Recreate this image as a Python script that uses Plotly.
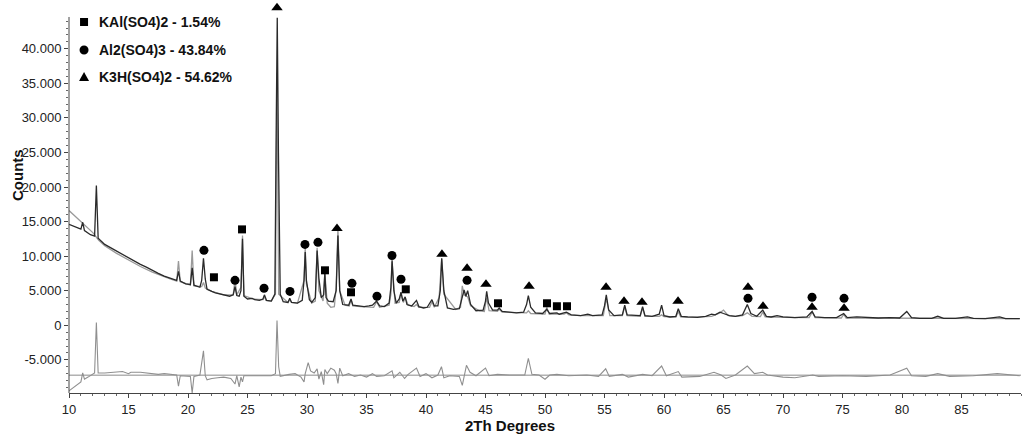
import plotly.graph_objects as go

# observed pattern (2theta, counts)
obs_x = [10.0, 10.5, 11.0, 11.15, 11.3, 11.8, 12.15, 12.3, 12.45, 13.0, 13.5, 14.0, 14.5, 15.0, 15.5, 16.0, 16.5,
         17.0, 17.5, 18.0, 18.5, 19.05, 19.2, 19.35, 19.8, 20.2, 20.35, 20.5, 21.0, 21.15, 21.3, 21.45, 21.6, 21.8,
         22.0, 22.3, 22.5, 23.0, 23.5, 23.8, 23.95, 24.1, 24.3, 24.45, 24.58, 24.7, 25.0, 25.4, 25.6, 26.0, 26.3,
         26.42, 26.6, 27.0, 27.3, 27.42, 27.5, 27.6, 27.75, 28.0, 28.4, 28.55, 28.7, 29.2, 29.6, 29.75, 29.85, 29.95,
         30.2, 30.4, 30.7, 30.85, 31.0, 31.2, 31.4, 31.5, 31.6, 31.8, 32.2, 32.45, 32.6, 32.75, 33.0, 33.5, 33.7,
         33.85, 34.2, 34.8, 35.2, 35.5, 35.85, 36.1, 36.5, 36.9, 37.05, 37.15, 37.3, 37.5, 37.75, 37.9, 38.05, 38.25,
         38.4, 38.8, 39.2, 39.4, 39.8, 40.1, 40.5, 40.7, 41.0, 41.2, 41.32, 41.5, 41.8, 42.3, 42.8, 43.05, 43.2,
         43.35, 43.5, 43.75, 44.2, 44.8, 45.0, 45.1, 45.25, 45.6, 46.0, 46.15, 46.4, 47.0, 47.6, 48.2, 48.45, 48.6,
         48.8, 49.2, 49.8, 50.15, 50.4, 51.0, 51.2, 51.8, 52.2, 53.0, 53.6, 54.0, 54.8, 55.0, 55.15, 55.35, 55.8,
         56.5, 56.7, 56.9, 57.5, 58.0, 58.2, 58.4, 59.0, 59.6, 59.8, 60.0, 60.5, 61.0, 61.2, 61.45, 62.0, 62.8,
         63.5, 64.0, 64.3, 64.7, 65.0, 65.5, 66.0, 66.6, 67.0, 67.3, 67.8, 68.3, 68.6, 69.0, 69.5, 70.0, 71.0,
         72.0, 72.45, 72.7, 73.5, 74.5, 75.1, 75.4, 76.2, 77.0, 78.0, 79.0, 79.8, 80.4, 80.8, 81.5, 82.5, 83.0,
         83.5, 84.5, 85.5, 86.0, 87.0, 88.2, 88.7, 89.9]
obs_y = [14600, 14300, 13900, 14900, 13700, 13100, 12900, 20200, 12600, 11700, 11200, 10700, 10200, 9700, 9300, 8800, 8400,
         7900, 7500, 7100, 6800, 6500, 7800, 6400, 6000, 5900, 8300, 5800, 5500, 6500, 9700, 6700, 5200, 5000,
         4900, 4700, 4600, 4400, 4200, 4400, 5600, 4300, 4200, 5000, 12500, 4200, 3800, 3900, 3700, 3600, 3800,
         4400, 3600, 3500, 4500, 30000, 44500, 25000, 4500, 3400, 3300, 3900, 3300, 3200, 3600, 6500, 10600, 6500,
         3700, 3300, 4000, 10800, 6800, 4000, 4400, 7600, 4000, 3500, 3400, 5000, 13000, 5000, 3000, 2900, 3800,
         2900, 2800, 2700, 2800, 2900, 3500, 2800, 2700, 3200, 5500, 9400, 5000, 3200, 3800, 4800, 3500, 4100,
         3000, 2800, 3600, 2700, 2500, 2600, 3700, 2800, 2800, 5000, 9700, 5000, 2500, 2300, 2400, 4200, 5100,
         4200, 5000, 3000, 2100, 2200, 3500, 4900, 3200, 2200, 2200, 2500, 2000, 1900, 1800, 1900, 3000, 4300,
         2600, 1800, 1700, 2300, 1700, 1800, 1600, 1900, 1500, 1400, 1600, 1400, 1500, 2800, 4400, 2200, 1400,
         1500, 2900, 1500, 1400, 1400, 2700, 1400, 1300, 1600, 2900, 1400, 1200, 1300, 2400, 1300, 1200, 1150,
         1300, 1600, 1500, 1900, 1700, 1400, 1300, 1500, 3000, 1700, 1300, 2200, 1300, 1200, 1400, 1200, 1100,
         1200, 2000, 1200, 1100, 1100, 1700, 1100, 1200, 1100, 1050, 1100, 1050, 2000, 1100, 1000, 1000, 1300,
         1000, 1000, 1200, 1000, 950, 1200, 950, 950]

# calculated pattern
calc_x = [10.0, 11.0, 12.0, 12.5, 13.0, 14.0, 15.0, 16.0, 17.0, 18.0, 18.5, 19.05, 19.2, 19.35, 20.2, 20.35, 20.5,
          21.15, 21.3, 21.45, 22.0, 23.0, 23.8, 23.95, 24.1, 24.45, 24.58, 24.7, 25.5, 26.3, 26.42, 26.55, 27.0,
          27.35, 27.48, 27.62, 28.4, 28.55, 28.7, 29.2, 29.75, 29.85, 29.95, 30.4, 30.7, 30.85, 31.0, 31.35, 31.5,
          31.7, 32.0, 32.3, 32.45, 32.6, 32.75, 33.2, 33.55, 33.7, 33.85, 34.5, 35.6, 35.85, 36.1, 36.9, 37.05,
          37.15, 37.4, 37.75, 37.9, 38.1, 38.25, 38.5, 39.0, 39.2, 39.4, 40.3, 40.5, 40.7, 41.1, 41.32, 41.5,
          42.5, 42.9, 43.05, 43.2, 43.5, 43.75, 44.5, 44.9, 45.1, 45.3, 46.0, 46.15, 46.4, 48.2, 48.45, 48.6,
          48.8, 50.0, 50.15, 50.35, 51.6, 51.8, 52.0, 53.0, 54.9, 55.15, 55.45, 56.5, 56.7, 56.9, 58.0, 58.2,
          58.4, 59.6, 59.8, 60.0, 61.0, 61.2, 61.4, 62.0, 64.0, 64.7, 65.0, 65.4, 66.0, 66.6, 67.0, 67.4, 68.1,
          68.3, 68.5, 70.0, 72.2, 72.45, 72.7, 74.9, 75.1, 75.3, 80.4, 85.0, 89.9]
calc_y = [16600, 15000, 13400, 12300, 11500, 10400, 9400, 8500, 7700, 7000, 6700, 6400, 9300, 6300, 5800, 10800, 5700,
          5600, 6200, 5400, 4900, 4400, 4400, 6600, 4400, 5500, 13000, 4300, 3800, 3700, 4200, 3600, 3500,
          4500, 36500, 4500, 3300, 3700, 3300, 3200, 6500, 11300, 6000, 3200, 3500, 11200, 5000, 3500, 7500,
          3200, 2600, 2700, 5500, 14000, 5000, 2900, 2800, 3700, 2800, 2700, 2600, 3400, 2600, 2900, 4500,
          9200, 3200, 3300, 4600, 3300, 4000, 2900, 2700, 3000, 2600, 2600, 3400, 2600, 4000, 9600, 4500,
          2300, 2600, 5700, 4400, 4100, 2800, 2100, 2000, 4000, 2100, 2000, 2300, 1900, 1800, 1800, 2100,
          1700, 1600, 2600, 1600, 1600, 1800, 1500, 1400, 1400, 3900, 1400, 1400, 2700, 1400, 1300, 2500,
          1300, 1300, 1500, 1250, 1200, 2000, 1200, 1150, 1300, 1800, 2200, 1400, 1300, 1400, 1800, 1300, 1250,
          1900, 1200, 1150, 1100, 1900, 1100, 1050, 1600, 1050, 1050, 1000, 950]

# difference curve (offset)
diff_x = [10.0, 10.5, 11.0, 11.15, 11.3, 11.6, 12.0, 12.15, 12.3, 12.45, 13.0, 13.5, 14.0, 14.5, 15.0, 15.2, 16.0,
          16.5, 17.0, 17.5, 18.0, 18.5, 19.05, 19.2, 19.35, 20.2, 20.35, 20.5, 21.0, 21.3, 21.45, 21.6, 22.0, 22.5,
          23.0, 23.6, 23.95, 24.1, 24.3, 24.45, 24.58, 24.7, 25.5, 26.0, 26.5, 27.0, 27.35, 27.48, 27.62, 27.75,
          28.5, 29.0, 29.5, 29.75, 29.85, 30.1, 30.3, 30.6, 30.85, 31.0, 31.2, 31.4, 31.5, 31.7, 32.0, 32.3, 32.45,
          32.6, 32.75, 33.0, 33.5, 34.0, 34.5, 35.0, 35.5, 35.85, 36.5, 37.15, 37.3, 37.8, 38.2, 38.5, 39.2, 39.5,
          40.0, 40.5, 41.0, 41.3, 41.5, 42.0, 42.8, 43.05, 43.4, 43.7, 44.2, 45.0, 45.3, 46.0, 47.0, 48.3, 48.6,
          48.9, 49.5, 50.0, 50.4, 51.0, 52.0, 53.5, 54.5, 55.1, 55.4, 56.5, 57.0, 58.2, 59.0, 59.8, 60.2, 61.2,
          61.5, 62.0, 63.0, 64.2, 64.8, 65.2, 66.0, 67.0, 67.6, 68.3, 68.7, 70.0, 71.0, 72.5, 73.0, 75.0, 77.0,
          79.0, 80.4, 80.8, 82.0, 83.0, 84.0, 86.0, 88.0, 89.9]
diff_y = [-9500, -8900, -8200, -6900, -7800, -7500, -7000, -6900, 400, -6900, -6900, -6800, -6700, -6700, -7000, -6800, -6800,
          -6900, -6900, -7100, -7000, -7100, -7200, -8800, -7300, -7400, -9800, -7400, -7200, -3700, -7300, -7900, -7700, -7600,
          -7500, -7700, -8500, -7300, -8900, -7500, -8200, -7300, -7300, -7300, -7200, -7300, -7000, 700, -6000, -7400,
          -7100, -7000, -7500, -8200, -7000, -5400, -6600, -6900, -6300, -7800, -6700, -8600, -6400, -7000, -6200, -6500, -7000,
          -8400, -6200, -7300, -7000, -7400, -7200, -7500, -7000, -7400, -7300, -6600, -7600, -6800, -7700, -7100, -6200, -7400,
          -7000, -7600, -7200, -6000, -7600, -7300, -7400, -8700, -5800, -6800, -7300, -6200, -7300, -7100, -7200, -7200, -4800,
          -7100, -7200, -7800, -7200, -7100, -7300, -7200, -7400, -6300, -7400, -7100, -7500, -7100, -7300, -5900, -7300, -6700,
          -7500, -7500, -7400, -6800, -7200, -7700, -7200, -5900, -7000, -6800, -7200, -7500, -7600, -7200, -7400, -7300, -7400,
          -7200, -6200, -7300, -7400, -7000, -7400, -7300, -7000, -7300]
diff_zero = -7220

# phase markers
kal_x = [22.18, 24.54, 31.51, 33.7, 38.3, 46.05, 50.17, 51.0, 51.85]
kal_y = [6940, 13870, 7950, 4770, 5200, 3180, 3180, 2750, 2750]
al2_x = [21.34, 23.95, 26.39, 28.57, 29.83, 30.92, 33.78, 35.88, 37.14, 37.9, 43.45, 67.06, 72.44, 75.13]
al2_y = [10840, 6500, 5350, 4900, 11700, 12000, 6070, 4190, 10100, 6650, 6500, 3900, 4050, 3900]
k3h_x = [27.48, 32.52, 41.34, 43.45, 45.04, 48.66, 55.13, 56.64, 58.15, 61.18, 67.06, 68.32, 72.44, 75.13]
k3h_y = [45950, 14000, 10260, 8240, 5920, 5640, 5490, 3470, 3320, 3470, 5490, 2750, 2600, 2460]

legend_names = ['KAl(SO4)2 - 1.54%', 'Al2(SO4)3 - 43.84%', 'K3H(SO4)2 - 54.62%']

yticks = [-5000, 0, 5000, 10000, 15000, 20000, 25000, 30000, 35000, 40000]
ytick_text = ['-5.000', '0', '5.000', '10.000', '15.000', '20.000', '25.000', '30.000', '35.000', '40.000']
y_minor = list(range(-9000, 45000, 1000))
xticks = [10, 15, 20, 25, 30, 35, 40, 45, 50, 55, 60, 65, 70, 75, 80, 85]
y_axis_top = 44600

FONT = 'Liberation Sans, Arial, sans-serif'

fig = go.Figure()
fig.add_trace(go.Scatter(x=[10, 90], y=[diff_zero, diff_zero], mode='lines',
                         line=dict(color='#8a8a8a', width=1), showlegend=False))
fig.add_trace(go.Scatter(x=diff_x, y=diff_y, mode='lines', line=dict(color='#8f8f8f', width=1.1), showlegend=False))
fig.add_trace(go.Scatter(x=calc_x, y=calc_y, mode='lines', line=dict(color='#9a9a9a', width=1.3), showlegend=False))
fig.add_trace(go.Scatter(x=obs_x, y=obs_y, mode='lines', line=dict(color='#2a2a2a', width=1.3), showlegend=False))

for xs, ys, sym, sz in [(kal_x, kal_y, 'square', 8), (al2_x, al2_y, 'circle', 9), (k3h_x, k3h_y, 'triangle-up', 10)]:
    fig.add_trace(go.Scatter(x=xs, y=ys, mode='markers', cliponaxis=False, showlegend=False,
                             marker=dict(symbol=sym, size=sz, color='black')))

# legend drawn by hand (pixel-sized glyphs in paper coords)
leg_y = [0.987, 0.913, 0.840]
leg_y = [(393 - p) / 386.0 for p in (22, 50, 77)]
shapes = [
    dict(type='rect', xref='paper', yref='paper', xsizemode='pixel', ysizemode='pixel',
         xanchor=0.0158, yanchor=leg_y[0], x0=-4, x1=4, y0=-4, y1=4, fillcolor='black', line=dict(width=0)),
    dict(type='circle', xref='paper', yref='paper', xsizemode='pixel', ysizemode='pixel',
         xanchor=0.0158, yanchor=leg_y[1], x0=-4.5, x1=4.5, y0=-4.5, y1=4.5, fillcolor='black', line=dict(width=0)),
    dict(type='path', xref='paper', yref='paper', xsizemode='pixel', ysizemode='pixel',
         xanchor=0.0158, yanchor=leg_y[2], path='M -5 -4 L 5 -4 L 0 5 Z', fillcolor='black', line=dict(width=0)),
    # left axis line, stopping a little below the top of the plot area
    dict(type='line', xref='paper', yref='y', x0=0, x1=0, y0=-9800, y1=y_axis_top,
         line=dict(color='#444', width=1)),
]
annotations = []
for name, yy in zip(legend_names, leg_y):
    annotations.append(dict(x=0.0294, y=yy, xref='paper', yref='paper', text='<b>%s</b>' % name, showarrow=False,
                            xanchor='left', yanchor='middle', font=dict(family=FONT, size=14, color='#111')))
annotations.append(dict(x=-0.0546, y=(393 - 175) / 386.0, xref='paper', yref='paper', text='<b>Counts</b>',
                        textangle=-90, xanchor='center', yanchor='middle',
                        showarrow=False, font=dict(family=FONT, size=15, color='#111')))
annotations.append(dict(x=0.463, y=(393 - 425) / 386.0, xref='paper', yref='paper', text='<b>2Th Degrees</b>',
                        xanchor='center', yanchor='middle',
                        showarrow=False, font=dict(family=FONT, size=15, color='#111')))

fig.update_layout(
    width=1024, height=436,
    margin=dict(l=69, r=3, t=7, b=43),
    plot_bgcolor='white', paper_bgcolor='white',
    showlegend=False,
    shapes=shapes, annotations=annotations,
    font=dict(family=FONT, size=13, color='#222'),
    xaxis=dict(range=[10, 90], tickvals=xticks, showgrid=False, zeroline=False, showline=True,
               linecolor='#444', linewidth=1, ticks='outside', ticklen=4, tickcolor='#444',
               minor=dict(dtick=1, ticks='outside', ticklen=2, tickcolor='#666'),
               tickfont=dict(size=13)),
    yaxis=dict(range=[-9800, 46045], tickvals=yticks, ticktext=ytick_text, showgrid=False, zeroline=False,
               showline=False, ticks='outside', ticklen=4, tickcolor='#444',
               minor=dict(tickvals=y_minor, ticks='outside', ticklen=2, tickcolor='#666'),
               tickfont=dict(size=13)),
)

# drop the page's default body margin so the figure fills the window exactly
fig.write_html('out.html', config={'displayModeBar': False},
               post_script="document.body.style.margin='0px';")
